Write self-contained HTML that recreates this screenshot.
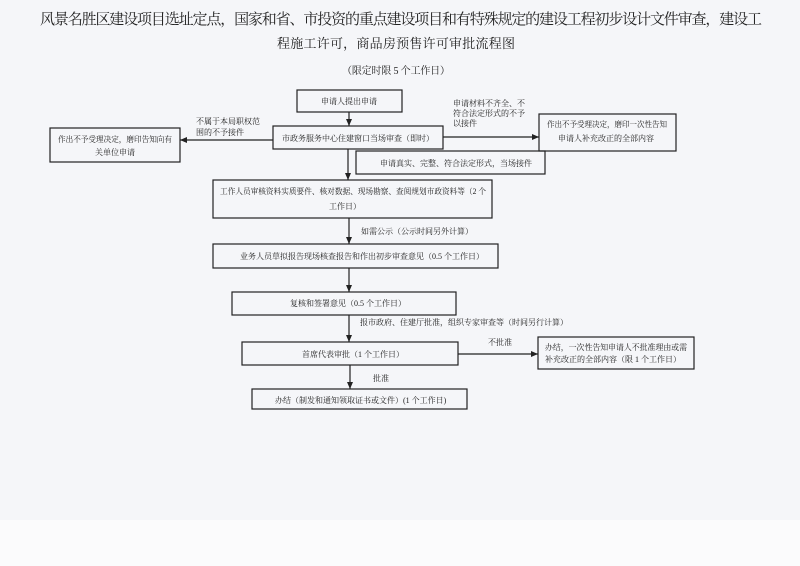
<!DOCTYPE html>
<html><head><meta charset="utf-8"><style>
html,body{margin:0;padding:0;background:#f5f6f9;}
svg{display:block;}
text{font-family:"Liberation Serif","Noto Serif CJK SC","Noto Sans CJK SC",serif;fill:#222;}
</style></head><body>
<svg width="800" height="566" viewBox="0 0 800 566" xmlns="http://www.w3.org/2000/svg">
<defs><marker id="a" markerWidth="8" markerHeight="8" refX="7" refY="4" orient="auto" markerUnits="userSpaceOnUse"><path d="M0,1 L7,4 L0,7 z" fill="#222"/></marker></defs>
<rect width="800" height="566" fill="#f5f6f9"/>
<rect x="0" y="520" width="800" height="46" fill="#fbfbfc"/>
<text x="40" y="24" font-size="15" textLength="722" lengthAdjust="spacing">风景名胜区建设项目选址定点，国家和省、市投资的重点建设项目和有特殊规定的建设工程初步设计文件审查，建设工</text>
<text x="277" y="48" font-size="13" textLength="238" lengthAdjust="spacing">程施工许可，商品房预售许可审批流程图</text>
<text x="342" y="74" font-size="10" textLength="108" lengthAdjust="spacing">（限定时限 5 个工作日）</text>
<g fill="none" stroke="#222" stroke-width="1.2">
<rect x="297" y="90" width="105" height="22"/>
<rect x="273" y="126" width="170" height="23"/>
<rect x="50" y="128" width="130" height="34"/>
<rect x="539" y="114" width="137" height="37"/>
<rect x="356" y="151" width="189" height="23"/>
<rect x="213" y="180" width="279" height="38"/>
<rect x="213" y="244" width="285" height="24"/>
<rect x="232" y="292" width="224" height="23"/>
<rect x="242" y="342" width="216" height="23"/>
<rect x="538" y="337" width="156" height="32"/>
<rect x="252" y="389" width="215" height="20"/>
<line x1="349" y1="112" x2="349" y2="126" marker-end="url(#a)"/>
<line x1="273" y1="140" x2="180" y2="140" marker-end="url(#a)"/>
<line x1="443" y1="137" x2="539" y2="137" marker-end="url(#a)"/>
<line x1="348" y1="149" x2="348" y2="180" marker-end="url(#a)"/>
<line x1="349" y1="218" x2="349" y2="244" marker-end="url(#a)"/>
<line x1="349" y1="268" x2="349" y2="292" marker-end="url(#a)"/>
<line x1="349" y1="315" x2="349" y2="342" marker-end="url(#a)"/>
<line x1="458" y1="354" x2="538" y2="354" marker-end="url(#a)"/>
<line x1="350" y1="365" x2="350" y2="389" marker-end="url(#a)"/>
</g>
<g font-size="8">
<text x="349" y="104" text-anchor="middle">申请人提出申请</text>
<text x="358" y="141" text-anchor="middle">市政务服务中心住建窗口当场审查（即时）</text>
<text x="58" y="142" textLength="114" lengthAdjust="spacingAndGlyphs">作出不予受理决定，磨印告知向有</text>
<text x="115" y="155" text-anchor="middle">关单位申请</text>
<text x="196" y="124">不属于本局职权范</text>
<text x="196" y="135">围的不予接件</text>
<text x="453" y="106">申请材料不齐全、不</text>
<text x="453" y="116">符合法定形式的不予</text>
<text x="453" y="126">以接件</text>
<text x="547" y="127" textLength="120" lengthAdjust="spacingAndGlyphs">作出不予受理决定，磨印一次性告知</text>
<text x="558" y="141">申请人补充改正的全部内容</text>
<text x="380" y="166">申请真实、完整、符合法定形式，当场接件</text>
<text x="220" y="194" textLength="266" lengthAdjust="spacingAndGlyphs">工作人员审核资料实质要件、核对数据、现场勘察、查阅规划市政资料等（2 个</text>
<text x="345" y="209" text-anchor="middle">工作日）</text>
<text x="361" y="234">如需公示（公示时间另外计算）</text>
<text x="240" y="259">业务人员草拟报告现场核查报告和作出初步审查意见（0.5 个工作日）</text>
<text x="290" y="306">复核和签署意见（0.5 个工作日）</text>
<text x="360" y="325">报市政府、住建厅批准，组织专家审查等（时间另行计算）</text>
<text x="302" y="357">首席代表审批（1 个工作日）</text>
<text x="488" y="345">不批准</text>
<text x="545" y="350" textLength="142" lengthAdjust="spacingAndGlyphs">办结，一次性告知申请人不批准理由或需</text>
<text x="545" y="362">补充改正的全部内容（限 1 个工作日）</text>
<text x="373" y="381">批准</text>
<text x="275" y="403">办结（制发和通知领取证书或文件）(1 个工作日)</text>
</g>
</svg>
</body></html>
